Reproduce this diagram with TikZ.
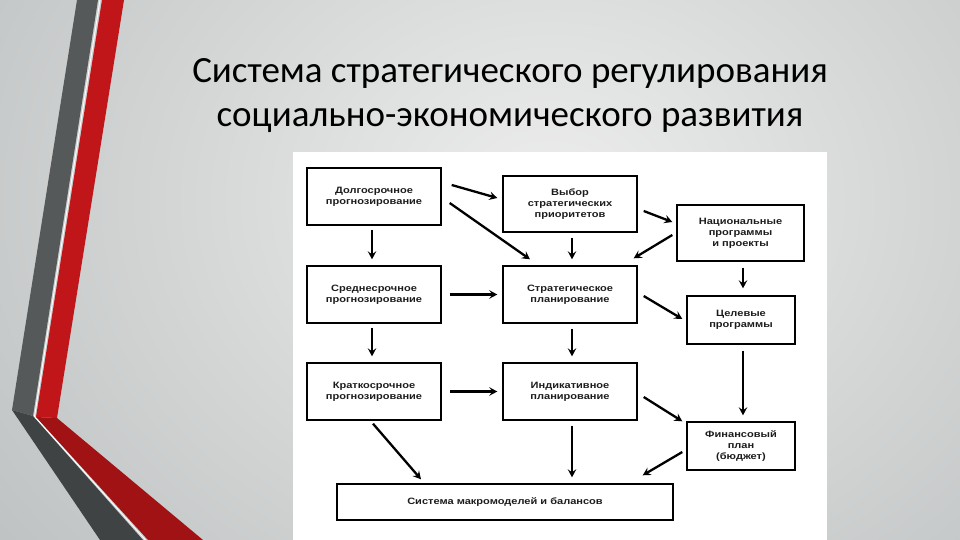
\documentclass[tikz,border=0pt]{standalone}
\usepackage{fontspec}
\setmainfont{Carlito}
\newfontfamily\boxfont[FakeStretch=1.2]{Liberation Sans}
\usetikzlibrary{arrows.meta,calc,shadows}
\definecolor{bgin}{HTML}{EDEDED}
\definecolor{bgout}{HTML}{B8BCBC}
\definecolor{grayup}{HTML}{56595A}
\definecolor{graylo}{HTML}{404343}
\definecolor{redup}{HTML}{C0161A}
\definecolor{redlo}{HTML}{A01214}
\definecolor{txt}{HTML}{1C1C1C}
\tikzset{
  box/.style={draw=black, line width=1.4pt, fill=white, align=center, inner sep=0pt,
    font=\boxfont\bfseries\fontsize{9.2}{10.8}\selectfont, text=txt,
    drop shadow={shadow xshift=1.2pt, shadow yshift=-1.2pt, opacity=1, fill=black}},
  arr/.style={line width=2.3pt, -{Stealth[length=8pt,width=8.5pt,inset=3pt]}},
  ttl/.style={anchor=base, font=\fontsize{37}{44}\selectfont, text=black, inner sep=0pt}
}
\begin{document}
\begin{tikzpicture}[x=1pt,y=-1pt]
\useasboundingbox (0,0) rectangle (960,540);
\begin{scope}
\clip (0,0) rectangle (960,540);
\shade[inner color=bgin, outer color=bgout] (-250,-450) rectangle (1350,850);
\end{scope}
% stripes
\fill[grayup] (77,0) -- (98,0) -- (33,416) -- (12,410) -- cycle;
\fill[graylo] (12,410) -- (33,416) -- (143,540) -- (100,540) -- cycle;
\fill[redup] (102,0) -- (124,0) -- (57,418) -- (36,417) -- cycle;
\fill[redlo] (36,417) -- (57,418) -- (203,540) -- (148,540) -- cycle;
\draw[white, line width=0.9pt] (100,0) -- (34.5,416.5) -- (145.5,540);
% title
\node[ttl] (t1) at (510,83) {Система стратегического регулирования};
\node[ttl] (t2) at (510,127) {социально-экономического развития};
% diagram background
\fill[white] (293,152) rectangle (827,540);
% boxes
\node[box, minimum width=134, minimum height=57] (dolg) at (374,196.5) {Долгосрочное\\прогнозирование};
\node[box, minimum width=134, minimum height=56] (vybor) at (570,204) {Выбор\\стратегических\\приоритетов};
\node[box, minimum width=127, minimum height=56] (nac) at (740.5,233) {Национальные\\программы\\и проекты};
\node[box, minimum width=134, minimum height=57] (sred) at (374,294.5) {Среднесрочное\\прогнозирование};
\node[box, minimum width=134, minimum height=57] (strat) at (570,294.5) {Стратегическое\\планирование};
\node[box, minimum width=108, minimum height=48] (cel) at (741,320) {Целевые\\программы};
\node[box, minimum width=134, minimum height=57] (krat) at (374,391.5) {Краткосрочное\\прогнозирование};
\node[box, minimum width=134, minimum height=57] (indik) at (570,391.5) {Индикативное\\планирование};
\node[box, minimum width=108, minimum height=48] (fin) at (741,446) {Финансовый\\план\\(бюджет)};
\node[box, minimum width=336, minimum height=36] (sys) at (505,502) {Система макромоделей и балансов};
% arrows
\draw[arr] ([shift={(10,-11.5)}]dolg.east) -- ([shift={(-5,-6)}]vybor.west);
\draw[arr] ([shift={(8,6.5)}]dolg.east) -- ([shift={(-40,-6)}]strat.north);
\draw[arr] ([shift={(-2,4)}]dolg.south) -- ([shift={(-2,-6)}]sred.north);
\draw[arr] ([shift={(8,0)}]sred.east) -- ([shift={(-5,0)}]strat.west);
\draw[arr] ([shift={(2,5)}]vybor.south) -- ([shift={(2,-6)}]strat.north);
\draw[arr] ([shift={(6,7)}]vybor.east) -- ([shift={(-4,-11)}]nac.west);
\draw[arr] ([shift={(-4,2)}]nac.west) -- ([shift={(-4,-7)}]strat.north east);
\draw[arr] ([shift={(2.5,6)}]nac.south) -- ([shift={(2,-7)}]cel.north);
\draw[arr] ([shift={(6,1.5)}]strat.east) -- ([shift={(-4,-1)}]cel.west);
\draw[arr] ([shift={(-2,4)}]sred.south) -- ([shift={(-2,-6)}]krat.north);
\draw[arr] ([shift={(2,5)}]strat.south) -- ([shift={(2,-6)}]indik.north);
\draw[arr] ([shift={(8,0)}]krat.east) -- ([shift={(-5,0)}]indik.west);
\draw[arr] ([shift={(-1,3)}]krat.south) -- ([shift={(-84,-4)}]sys.north);
\draw[arr] ([shift={(2,5)}]indik.south) -- ([shift={(67,-6)}]sys.north);
\draw[arr] ([shift={(6,5.5)}]indik.east) -- ([shift={(-4,0)}]fin.north west);
\draw[arr] ([shift={(2,6)}]cel.south) -- ([shift={(2,-6)}]fin.north);
\draw[arr] ([shift={(-4,6)}]fin.west) -- ([shift={(-31,-8)}]sys.north east);
\end{tikzpicture}
\end{document}
